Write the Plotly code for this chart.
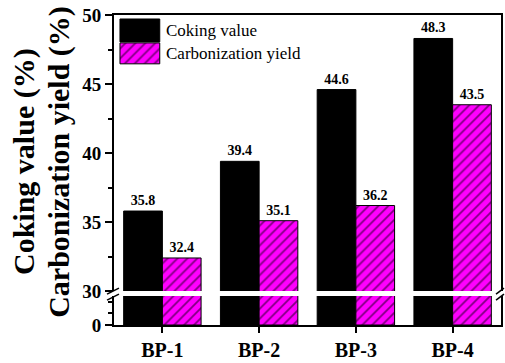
import plotly.graph_objects as go

# Sample names and measured values (%)
samples = ["BP-1", "BP-2", "BP-3", "BP-4"]
coking_value = [35.8, 39.4, 44.6, 48.3]
carbonization_yield = [32.4, 35.1, 36.2, 43.5]

upper_ticks = [30, 35, 40, 45, 50]
lower_ticks = [0]

SERIF = "Liberation Serif, Times New Roman, serif"
MAGENTA = "#FF00FF"

# Pixel geometry of the plotting frame (used for the broken-axis layout)
W, H = 505, 363
L, R, T, B = 114, 2, 15, 37
PW, PH = W - L - R, H - T - B


def px(x):
    return (x - L) / PW


def py(y):
    return (H - B - y) / PH


hatch = dict(shape="/", fgcolor="black", bgcolor=MAGENTA, size=7, solidity=0.25)

fig = go.Figure()

# Bars on both segments of the broken axis
for xa, ya, with_text in (("x", "y", False), ("x2", "y2", True)):
    fig.add_trace(go.Bar(
        x=samples, y=coking_value, xaxis=xa, yaxis=ya, name="Coking value",
        marker=dict(color="black", line=dict(color="black", width=1)),
        texttemplate="%{y:.1f}" if with_text else None,
        textposition="outside" if with_text else "none",
        textfont=dict(family=SERIF, size=14, color="black", weight="bold"),
        showlegend=False,
    ))
    fig.add_trace(go.Bar(
        x=samples, y=carbonization_yield, xaxis=xa, yaxis=ya, name="Carbonization yield",
        marker=dict(color=MAGENTA, line=dict(color="black", width=1), pattern=hatch),
        texttemplate="%{y:.1f}" if with_text else None,
        textposition="outside" if with_text else "none",
        textfont=dict(family=SERIF, size=14, color="black", weight="bold"),
        showlegend=False,
    ))

# Legend swatches drawn on a hidden pixel-scaled overlay
sw_x = [120, 160, 160, 120, 120]
fig.add_trace(go.Scatter(
    x=sw_x, y=[19, 19, 42, 42, 19], xaxis="x3", yaxis="y3", mode="lines",
    fill="toself", fillcolor="black", line=dict(color="black", width=1),
    showlegend=False, hoverinfo="skip",
))
fig.add_trace(go.Scatter(
    x=sw_x, y=[43, 43, 64, 64, 43], xaxis="x3", yaxis="y3", mode="lines",
    fill="toself", fillcolor=MAGENTA, fillpattern=hatch,
    line=dict(color="black", width=1), showlegend=False, hoverinfo="skip",
))

tickfont = dict(family=SERIF, size=19, color="black", weight="bold")
ax_common = dict(showline=True, linecolor="black", linewidth=2, showgrid=False,
                 zeroline=False, ticks="outside", tickwidth=2, tickcolor="black")

lower_top = 297
upper_bottom = 292

fig.update_layout(
    width=W, height=H,
    margin=dict(l=L, r=R, t=T, b=B),
    paper_bgcolor="white", plot_bgcolor="rgba(0,0,0,0)",
    font=dict(family=SERIF, color="black"),
    barmode="group", bargap=0.2, bargroupgap=0,
    showlegend=False,
    xaxis=dict(domain=[0, 1], anchor="y", type="category", range=[-0.5, 3.5],
               ticklen=6, tickfont=dict(family=SERIF, size=20, color="black", weight="bold"),
               **ax_common),
    xaxis2=dict(domain=[0, 1], anchor="y2", matches="x", type="category",
                showline=True, linecolor="black", linewidth=2, side="top",
                showticklabels=False, ticks="", showgrid=False, zeroline=False),
    yaxis=dict(domain=[0, py(lower_top)], anchor="x", range=[0, 2.5],
               tickvals=lower_ticks, ticktext=[str(v) for v in lower_ticks],
               ticklen=7, tickfont=tickfont, mirror=True,
               minor=dict(tickvals=[1, 2], ticks="outside", ticklen=4,
                          tickwidth=2, tickcolor="black", showgrid=False),
               **ax_common),
    yaxis2=dict(domain=[py(upper_bottom), 1], anchor="x2", range=[30, 50],
                tickvals=upper_ticks, ticklen=7, tickfont=tickfont, mirror=True,
                minor=dict(dtick=2.5, tick0=30, ticks="outside", ticklen=4,
                           tickwidth=2, tickcolor="black", showgrid=False),
                **ax_common),
    xaxis3=dict(domain=[0, 1], anchor="y3", range=[L, W - R], visible=False, fixedrange=True),
    yaxis3=dict(domain=[0, 1], anchor="x3", range=[H - B, T], visible=False, fixedrange=True),
)

# Legend labels
for yy, label in ((30.5, "Coking value"), (53.5, "Carbonization yield")):
    fig.add_annotation(xref="x3", yref="y3", x=164, y=yy, text=label, showarrow=False,
                       xanchor="left", yanchor="middle",
                       font=dict(family=SERIF, size=17, color="black"))

# Two-line y-axis title
for xc, label in ((23, "<b>Coking value (%)</b>"), (58, "<b>Carbonization yield (%)</b>")):
    fig.add_annotation(xref="paper", yref="paper", x=px(xc), y=py(162), text=label,
                       textangle=-90, showarrow=False, xanchor="center", yanchor="middle",
                       font=dict(family=SERIF, size=30, color="black"))

# Axis break marks on the left and right frame lines
for x0, x1 in ((107, 119), (498, 506)):
    for dy in (0, 6):
        fig.add_shape(type="line", xref="paper", yref="paper",
                      x0=px(x0), y0=py(295 + dy), x1=px(x1), y1=py(289 + dy),
                      line=dict(color="black", width=1.5))

fig.write_html("out.html")
